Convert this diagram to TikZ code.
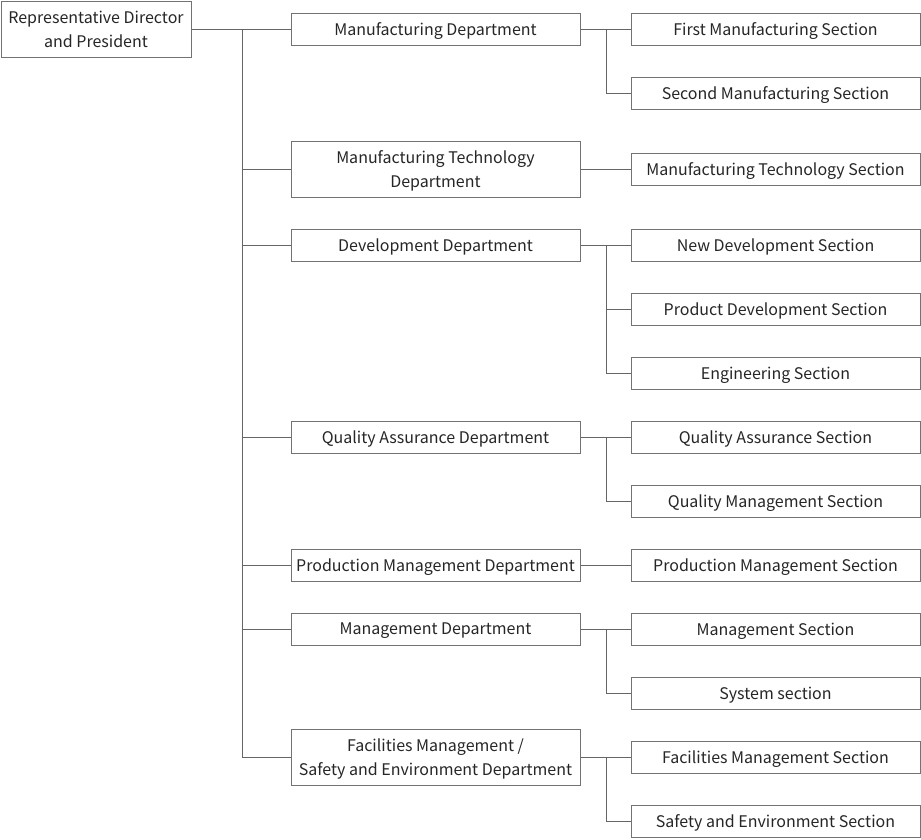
\documentclass[tikz,border=0pt]{standalone}
\usepackage{fontspec}
\setmainfont{Noto Sans CJK JP}
\begin{document}
\begin{tikzpicture}[x=1pt,y=-1pt,
  box/.style={draw=black!55, line width=1pt, fill=white, text=black!85, font=\fontsize{16}{24}\selectfont, align=center, inner sep=0pt, text depth=0pt, minimum width=289pt, minimum height=32pt},
  tall/.style={minimum height=56pt},
  conn/.style={draw=black!60, line width=1pt}]
\useasboundingbox (0,0) rectangle (921,839);
\node[box, minimum width=190pt, minimum height=56pt] (pres) at (96,29) {Representative Director\\and President};
% departments
\node[box] (d1) at (435.5,29) {Manufacturing Department};
\node[box,tall] (d2) at (435.5,169) {Manufacturing Technology\\Department};
\node[box] (d3) at (435.5,245) {Development Department};
\node[box] (d4) at (435.5,437) {Quality Assurance Department};
\node[box] (d5) at (435.5,565) {Production Management Department};
\node[box] (d6) at (435.5,629) {Management Department};
\node[box,tall] (d7) at (435.5,757) {Facilities Management /\\Safety and Environment Department};
% sections
\node[box] (s1) at (775.5,29) {First Manufacturing Section};
\node[box] (s2) at (775.5,93) {Second Manufacturing Section};
\node[box] (s3) at (775.5,169) {Manufacturing Technology Section};
\node[box] (s4) at (775.5,245) {New Development Section};
\node[box] (s5) at (775.5,309) {Product Development Section};
\node[box] (s6) at (775.5,373) {Engineering Section};
\node[box] (s7) at (775.5,437) {Quality Assurance Section};
\node[box] (s8) at (775.5,501) {Quality Management Section};
\node[box] (s9) at (775.5,565) {Production Management Section};
\node[box] (s10) at (775.5,629) {Management Section};
\node[box] (s11) at (775.5,693) {System section};
\node[box] (s12) at (775.5,757) {Facilities Management Section};
\node[box] (s13) at (775.5,821) {Safety and Environment Section};
% trunk
\coordinate (t0) at (242,29);
\coordinate (t1) at (242,757);
\draw[conn] (pres.east) -- (d1.west);
\draw[conn] (t0) -- (t1);
\foreach \d in {d2,d3,d4,d5,d6,d7} \draw[conn] (\d.west -| t0) -- (\d.west);
% branches
\coordinate (bx) at (606,0);
\draw[conn] (d1.east) -- (s1.west);
\draw[conn] (s1.west -| bx) |- (s2.west);
\draw[conn] (d2.east) -- (s3.west);
\draw[conn] (d3.east) -- (s4.west);
\draw[conn] (s4.west -| bx) |- (s5.west);
\draw[conn] (s4.west -| bx) |- (s6.west);
\draw[conn] (d4.east) -- (s7.west);
\draw[conn] (s7.west -| bx) |- (s8.west);
\draw[conn] (d5.east) -- (s9.west);
\draw[conn] (d6.east) -- (s10.west);
\draw[conn] (s10.west -| bx) |- (s11.west);
\draw[conn] (d7.east) -- (s12.west);
\draw[conn] (s12.west -| bx) |- (s13.west);
\end{tikzpicture}
\end{document}
